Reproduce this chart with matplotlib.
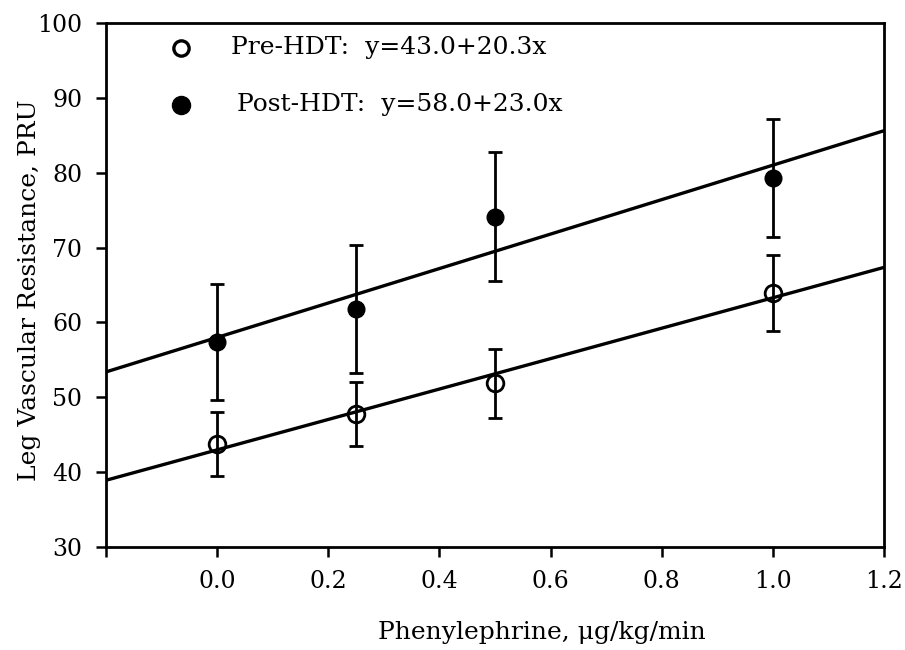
import matplotlib
matplotlib.use("Agg")
import matplotlib.pyplot as plt

# dose of phenylephrine (ug/kg/min)
dose = [0.0, 0.25, 0.5, 1.0]

# Pre-HDT means and error
pre_mean = [43.8, 47.8, 51.9, 63.9]
pre_err = [4.3, 4.3, 4.6, 5.1]

# Post-HDT means and error
post_mean = [57.4, 61.8, 74.1, 79.3]
post_err = [7.8, 8.6, 8.6, 7.9]

# regression lines y = a + b*x
pre_fit = (43.0, 20.3)
post_fit = (58.0, 23.0)
x_range = [-0.2, 1.2]

xticks = [-0.2, 0.0, 0.2, 0.4, 0.6, 0.8, 1.0, 1.2]
xticklabels = ["", "0.0", "0.2", "0.4", "0.6", "0.8", "1.0", "1.2"]
yticks = [30, 40, 50, 60, 70, 80, 90, 100]

plt.rcParams["font.family"] = ["DejaVu Serif"]

fig = plt.figure(figsize=(9.05, 6.5), dpi=100)
ax = fig.add_axes([0.117, 0.158, 0.860, 0.807])

# fitted lines
for a, b in (pre_fit, post_fit):
    ax.plot(x_range, [a + b * x for x in x_range], "-", color="black", linewidth=2.4)

# data with error bars
ax.errorbar(dose, pre_mean, yerr=pre_err, fmt="o", color="black", mfc="none",
            mec="black", mew=2.0, markersize=12, elinewidth=2.0, capsize=5, capthick=2.0)
ax.errorbar(dose, post_mean, yerr=post_err, fmt="o", color="black", mfc="black",
            mec="black", markersize=12, elinewidth=2.0, capsize=5, capthick=2.0)

ax.set_xlim(x_range)
ax.set_ylim(30, 100)
ax.set_xticks(xticks)
ax.set_xticklabels(xticklabels)
ax.set_yticks(yticks)

ax.tick_params(direction="out", length=7, width=1.8, labelsize=17)
ax.tick_params(axis="y", pad=10)
ax.tick_params(axis="x", pad=9)
for s in ax.spines.values():
    s.set_linewidth(2.0)

ax.set_xlabel("Phenylephrine, \u03bcg/kg/min", fontsize=18)
ax.xaxis.set_label_coords(0.56, -0.14)
ax.set_ylabel("Leg Vascular Resistance, PRU", fontsize=18)
ax.yaxis.set_label_coords(-0.084, 0.49)

# legend drawn by hand to follow the original layout
ax.plot([0.097], [0.952], "o", transform=ax.transAxes, mfc="none", mec="black",
        mew=2.4, markersize=11, clip_on=False)
ax.text(0.161, 0.952, "Pre-HDT:  y=43.0+20.3x", transform=ax.transAxes,
        fontsize=18, va="center", ha="left")
ax.plot([0.097], [0.844], "o", transform=ax.transAxes, mfc="black", mec="black",
        markersize=13, clip_on=False)
ax.text(0.169, 0.844, "Post-HDT:  y=58.0+23.0x", transform=ax.transAxes,
        fontsize=18, va="center", ha="left")

fig.savefig("out.png", dpi=100)
